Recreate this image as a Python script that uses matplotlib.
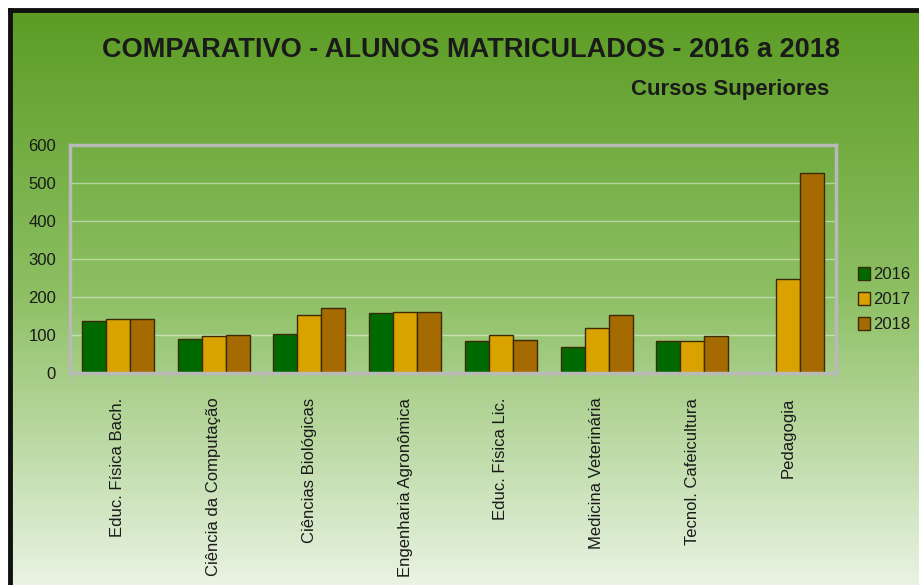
import numpy as np
import matplotlib.pyplot as plt
from matplotlib.colors import LinearSegmentedColormap
from matplotlib.patches import Rectangle

# dados
cursos = ['Educ. Física Bach.', 'Ciência da Computação', 'Ciências Biológicas',
          'Engenharia Agronômica', 'Educ. Física Lic.', 'Medicina Veterinária',
          'Tecnol. Cafeicultura', 'Pedagogia']
anos = ['2016', '2017', '2018']
alunos_2016 = [137, 90, 101, 156, 83, 68, 83, 0]
alunos_2017 = [141, 96, 152, 159, 100, 119, 83, 248]
alunos_2018 = [141, 100, 170, 159, 86, 152, 97, 527]
y_ticks = [0, 100, 200, 300, 400, 500, 600]

cores = ['#006a00', '#d9a200', '#a56a00']
texto = '#1a1a1a'

plt.rcParams['font.family'] = ['Liberation Sans', 'DejaVu Sans']

fig = plt.figure(figsize=(9.2, 5.85), dpi=100)

# fundo em degrade verde
bg = fig.add_axes([0, 0, 1, 1], zorder=-10)
cmap = LinearSegmentedColormap.from_list('fundo', ['#5a9b22', '#8dbf63', '#e9f3e3'])
grad = np.linspace(0, 1, 256).reshape(-1, 1)
bg.imshow(grad, cmap=cmap, aspect='auto', extent=[0, 1, 0, 1], origin='upper')
bg.set_xlim(0, 1)
bg.set_ylim(0, 1)
bg.axis('off')
# moldura escura (esquerda e topo)
bg.add_patch(Rectangle((0, 0), 9 / 920, 1, color='white', zorder=2))
bg.add_patch(Rectangle((0, 1 - 9 / 585), 1, 9 / 585, color='white', zorder=2))
bg.plot([10 / 920, 10 / 920], [0, 1 - 10 / 585], color='#111111', lw=3.5, zorder=3,
        solid_capstyle='projecting')
bg.plot([10 / 920, 1], [1 - 10 / 585, 1 - 10 / 585], color='#111111', lw=3.5, zorder=3,
        solid_capstyle='projecting')

ax = fig.add_axes([70 / 920, 1 - 372.7 / 585, 766 / 920, 227.7 / 585])
ax.set_facecolor('none')

x = np.arange(len(cursos))
w = 0.25
for k, (serie, ano) in enumerate(zip([alunos_2016, alunos_2017, alunos_2018], anos)):
    ax.bar(x + (k - 1) * w, serie, w, color=cores[k], edgecolor='#3a2a05',
           linewidth=1, label=ano, zorder=3)

ax.set_xlim(-0.5, len(cursos) - 0.5)
ax.set_ylim(0, 600)
ax.set_yticks(y_ticks)
ax.tick_params(axis='y', length=0, pad=10, labelsize=12, labelcolor=texto)
ax.yaxis.grid(True, color='white', alpha=0.45, lw=1)
ax.set_axisbelow(True)

ax.set_xticks(x)
ax.set_xticklabels(cursos, rotation=90, fontsize=12, color=texto, va='top')
ax.tick_params(axis='x', length=0, pad=18)
ax.set_xticks(np.arange(-0.5, len(cursos)), minor=True)
ax.tick_params(axis='x', which='minor', length=6, color='#b9b9b9', width=1)

for s in ax.spines.values():
    s.set_color('#b9b9b9')
    s.set_linewidth(2.5)
    s.set_zorder(4)

leg = ax.legend(loc='center left', bbox_to_anchor=(1.0, 0.32), frameon=False,
                fontsize=12, handlelength=0.75, handleheight=0.75, handletextpad=0.15,
                labelspacing=0.6, borderaxespad=0.9)
for t in leg.get_texts():
    t.set_color(texto)

fig.text(471 / 920, 1 - 50 / 585, 'COMPARATIVO - ALUNOS MATRICULADOS - 2016 a 2018',
         ha='center', va='center', fontsize=19.5, fontweight='bold', color=texto)
fig.text(829 / 920, 1 - 90 / 585, 'Cursos Superiores', ha='right', va='center',
         fontsize=16, fontweight='bold', color=texto)

fig.savefig('out.png', dpi=100)
